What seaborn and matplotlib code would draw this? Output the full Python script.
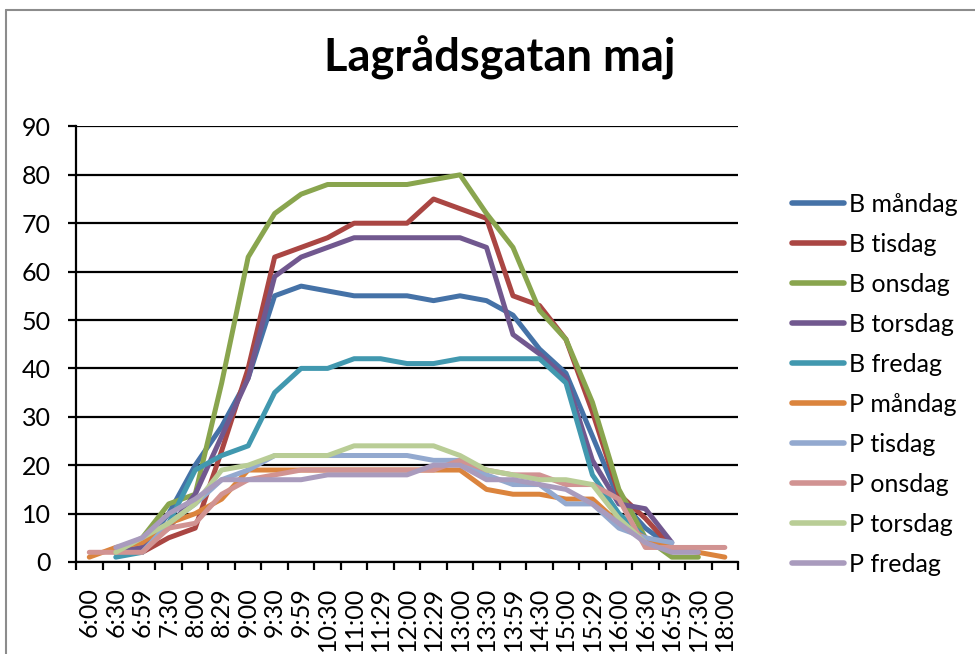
import numpy as np
import pandas as pd
import matplotlib
matplotlib.use("Agg")
import matplotlib.pyplot as plt
from matplotlib.lines import Line2D
import seaborn as sns

# ── Data ───────────────────────────────────────────────────────────────────────
TIMES = ["6:00", "6:30", "6:59", "7:30", "8:00", "8:29", "9:00", "9:30", "9:59",
         "10:30", "11:00", "11:29", "12:00", "12:29", "13:00", "13:30", "13:59",
         "14:30", "15:00", "15:29", "16:00", "16:30", "16:59", "17:30", "18:00"]
N = np.nan

b_mandag  = [N, 2, 3, 10, 20, 28, 38, 55, 57, 56, 55, 55, 55, 54, 55, 54, 51, 44, 39, 26, 13, 7, 3, N, N]
b_tisdag  = [N, N, 2, 5, 7, 23, 40, 63, 65, 67, 70, 70, 70, 75, 73, 71, 55, 53, 46, 31, 14, 9, 3, N, N]
b_onsdag  = [N, 2, 5, 12, 14, 37, 63, 72, 76, 78, 78, 78, 78, 79, 80, 72, 65, 52, 46, 33, 15, 5, 1, 1, N]
b_torsdag = [N, 2, 3, 7, 14, 26, 38, 59, 63, 65, 67, 67, 67, 67, 67, 65, 47, 43, 38, 21, 12, 11, 4, N, N]
b_fredag  = [N, 1, 2, 8, 19, 22, 24, 35, 40, 40, 42, 42, 41, 41, 42, 42, 42, 42, 37, 18, 10, 5, 3, N, N]
p_mandag  = [1, 3, 4, 8, 10, 13, 19, 19, 19, 19, 19, 19, 19, 19, 19, 15, 14, 14, 13, 13, 8, 5, 3, 2, 1]
p_tisdag  = [N, N, 2, 8, 12, 17, 19, 22, 22, 22, 22, 22, 22, 21, 21, 18, 16, 16, 12, 12, 7, 5, 4, N, N]
p_onsdag  = [2, 2, 2, 7, 8, 14, 17, 18, 19, 19, 19, 19, 19, 19, 21, 19, 18, 18, 16, 16, 13, 3, 3, 3, 3]
p_torsdag = [N, 2, 5, 8, 12, 19, 20, 22, 22, 22, 24, 24, 24, 24, 22, 19, 18, 17, 17, 16, 9, 4, N, N, N]
p_fredag  = [N, 3, 5, 10, 13, 17, 17, 17, 17, 18, 18, 18, 18, 20, 20, 17, 17, 16, 15, 12, 8, 4, 2, 2, N]

SERIES = ["B måndag", "B tisdag", "B onsdag", "B torsdag", "B fredag",
          "P måndag", "P tisdag", "P onsdag", "P torsdag", "P fredag"]
VALUES = [b_mandag, b_tisdag, b_onsdag, b_torsdag, b_fredag,
          p_mandag, p_tisdag, p_onsdag, p_torsdag, p_fredag]
COLORS = ["#4572A7", "#AA4643", "#89A54E", "#71588F", "#4198AF",
          "#DB843D", "#93A9CF", "#D19392", "#B9CD96", "#A99BBD"]
PALETTE = dict(zip(SERIES, COLORS))

rows = []
for name, vals in zip(SERIES, VALUES):
    for i, v in enumerate(vals):
        if not np.isnan(v):
            rows.append({"pos": i, "antal": v, "serie": name})
df = pd.DataFrame(rows)

# ── Style ──────────────────────────────────────────────────────────────────────
sns.set_style("white")
plt.rcParams["font.family"] = ["Lato", "DejaVu Sans"]
plt.rcParams.update({"text.color": "black", "xtick.color": "black",
                     "ytick.color": "black", "axes.labelcolor": "black"})

fig = plt.figure(figsize=(9.75, 6.54), dpi=100)
ax = fig.add_axes([0.078, 0.1407, 0.679, 0.666])

sns.lineplot(data=df, x="pos", y="antal", hue="serie", hue_order=SERIES,
             palette=PALETTE, linewidth=3.6, legend=False, sort=True, ax=ax,
             zorder=3)

ax.set_xlim(-0.5, len(TIMES) - 0.5)
ax.set_ylim(0, 90)
ax.set_yticks(range(0, 91, 10))
ax.yaxis.grid(True, color="black", linewidth=1.6, zorder=1)
ax.xaxis.grid(False)
ax.set_axisbelow(True)

ax.set_xticks(range(len(TIMES)))
ax.set_xticklabels(TIMES, rotation=90, va="top", ha="center")
ax.set_xticks(np.arange(-0.5, len(TIMES), 1), minor=True)
ax.tick_params(axis="x", which="major", length=0, pad=18, labelsize=18)
ax.tick_params(axis="x", which="minor", length=6, width=1.6, color="black",
               direction="out", bottom=True)
ax.tick_params(axis="y", length=6, width=1.6, color="black", direction="out",
               left=True, pad=12, labelsize=18)
ax.set_xlabel("")
ax.set_ylabel("")

for side in ["top", "right"]:
    ax.spines[side].set_visible(False)
for side in ["left", "bottom"]:
    ax.spines[side].set_color("black")
    ax.spines[side].set_linewidth(1.6)

fig.text(0.513, 0.912, "Lagrådsgatan maj", ha="center", va="center",
         fontsize=32.5, fontweight="bold")

handles = [Line2D([0], [0], color=c, linewidth=4) for c in COLORS]
fig.legend(handles, SERIES, loc="center left", bbox_to_anchor=(0.812, 0.412),
           frameon=False, fontsize=18, handlelength=2.1, handletextpad=0.2,
           labelspacing=0.68, borderpad=0, borderaxespad=0)

# chart-area border (Excel frame, cropped at right/bottom)
fig.add_artist(Line2D([6 / 975, 6 / 975], [0, 1 - 10 / 654], color="#8c8c8c",
                      linewidth=1.5, transform=fig.transFigure))
fig.add_artist(Line2D([6 / 975, 1], [1 - 10 / 654, 1 - 10 / 654], color="#8c8c8c",
                      linewidth=1.5, transform=fig.transFigure))

fig.savefig("out.png", dpi=100, facecolor="white")
